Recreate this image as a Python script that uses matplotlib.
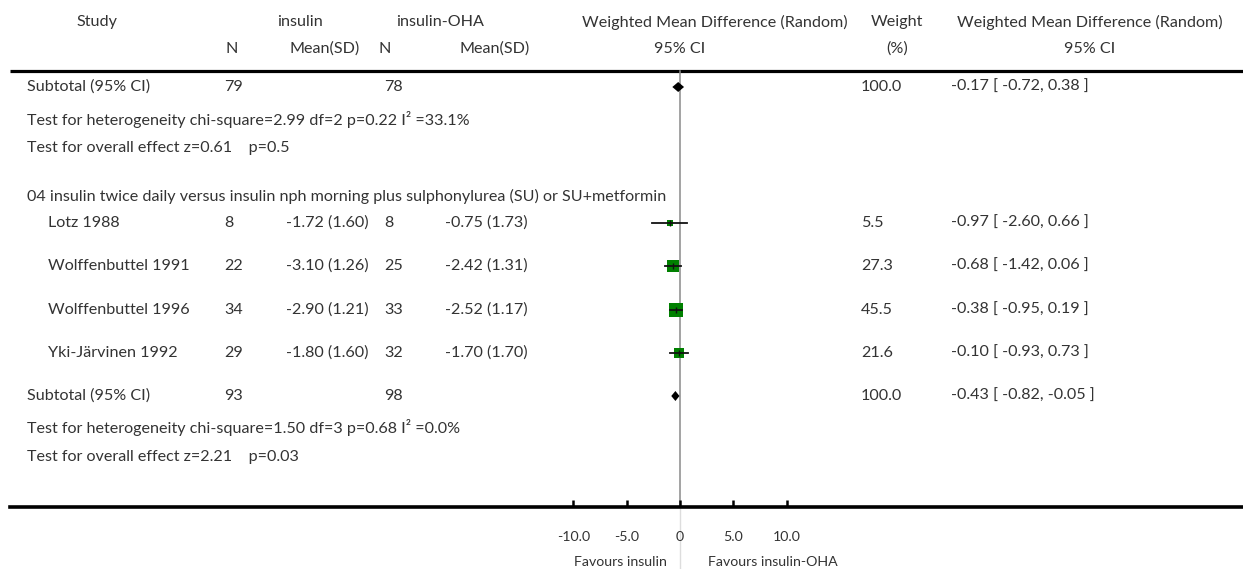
import matplotlib
matplotlib.use("Agg")
import matplotlib.pyplot as plt
import numpy as np

# ---------------- data ----------------
studies = ["Lotz 1988", "Wolffenbuttel 1991", "Wolffenbuttel 1996", "Yki-Järvinen 1992"]
n_insulin = [8, 22, 34, 29]
mean_insulin = [-1.72, -3.10, -2.90, -1.80]
sd_insulin = [1.60, 1.26, 1.21, 1.60]
n_oha = [8, 25, 33, 32]
mean_oha = [-0.75, -2.42, -2.52, -1.70]
sd_oha = [1.73, 1.31, 1.17, 1.70]
wmd = [-0.97, -0.68, -0.38, -0.10]
ci_lo = [-2.60, -1.42, -0.95, -0.93]
ci_hi = [0.66, 0.06, 0.19, 0.73]
weights = [5.5, 27.3, 45.5, 21.6]

# subtotal of previous group (top) and of group 04
sub1_n = (79, 78)
sub1 = (-0.17, -0.72, 0.38)
sub1_weight = 100.0
sub1_het = "Test for heterogeneity chi-square=2.99 df=2 p=0.22 I² =33.1%"
sub1_overall = "Test for overall effect z=0.61    p=0.5"

group_title = "04 insulin twice daily versus insulin nph morning plus sulphonylurea (SU) or SU+metformin"
sub2_n = (93, 98)
sub2 = (-0.43, -0.82, -0.05)
sub2_weight = 100.0
sub2_het = "Test for heterogeneity chi-square=1.50 df=3 p=0.68 I² =0.0%"
sub2_overall = "Test for overall effect z=2.21    p=0.03"

xticks = [-10, -5, 0, 5, 10]
xtick_labels = ["-10.0", "-5.0", "0", "5.0", "10.0"]

# ---------------- layout ----------------
W, H = 1243, 569
PX_PER_UNIT = 10.667
X0 = 680.0  # pixel of zero

plt.rcParams['font.family'] = ['Lato', 'DejaVu Sans']
FS = 11.6
TC = '#333333'

fig = plt.figure(figsize=(W / 100, H / 100), dpi=100)
tx = fig.add_axes([0, 0, 1, 1])
tx.set_xlim(0, W)
tx.set_ylim(H, 0)
tx.axis('off')

ax = fig.add_axes([0, 0, 1, 1])
ax.set_xlim((0 - X0) / PX_PER_UNIT, (W - X0) / PX_PER_UNIT)
ax.set_ylim(H, 0)
ax.patch.set_alpha(0)

def T(x, y, s, ha='left', fs=FS):
    tx.text(x, y, s, ha=ha, va='center', fontsize=fs, color=TC)

# headers
hy1, hy2 = 22, 49
T(97, hy1, "Study", 'center')
T(300, hy1, "insulin", 'center')
T(440, hy1, "insulin-OHA", 'center')
T(715, hy1, "Weighted Mean Difference (Random)", 'center')
T(897, hy1, "Weight", 'center')
T(1090, hy1, "Weighted Mean Difference (Random)", 'center')
T(232, hy2, "N", 'center')
T(325, hy2, "Mean(SD)", 'center')
T(385, hy2, "N", 'center')
T(495, hy2, "Mean(SD)", 'center')
T(680, hy2, "95% CI", 'center')
T(897, hy2, "(%)", 'center')
T(1090, hy2, "95% CI", 'center')

tx.plot([10, W], [71, 71], color='black', lw=2.3, solid_capstyle='butt')

# rows
y_sub1, y_het1, y_ov1 = 87, 119, 148
y_group = 196
y_studies = [223, 266, 310, 353]
y_sub2, y_het2, y_ov2 = 396, 427, 457

xcol_label, xcol_study = 27, 48
xcol_n1, xcol_m1, xcol_n2, xcol_m2 = 224, 286, 384, 445
xcol_w, xcol_ci = 861, 951

def ci_text(e, lo, hi):
    return f"{e:.2f} [ {lo:.2f}, {hi:.2f} ]"

# subtotal 1
T(xcol_label, y_sub1, "Subtotal (95% CI)")
T(xcol_n1, y_sub1, str(sub1_n[0]))
T(xcol_n2, y_sub1, str(sub1_n[1]))
T(xcol_w, y_sub1, f"{sub1_weight:.1f}")
T(xcol_ci, y_sub1, ci_text(*sub1))
T(xcol_label, y_het1, sub1_het)
T(xcol_label, y_ov1, sub1_overall)

T(xcol_label, y_group, group_title)

for i, name in enumerate(studies):
    y = y_studies[i]
    T(xcol_study, y, name)
    T(xcol_n1, y, str(n_insulin[i]))
    T(xcol_m1, y, f"{mean_insulin[i]:.2f} ({sd_insulin[i]:.2f})")
    T(xcol_n2, y, str(n_oha[i]))
    T(xcol_m2, y, f"{mean_oha[i]:.2f} ({sd_oha[i]:.2f})")
    T(xcol_w, y, f"{weights[i]:.1f}")
    T(xcol_ci, y, ci_text(wmd[i], ci_lo[i], ci_hi[i]))

T(xcol_label, y_sub2, "Subtotal (95% CI)")
T(xcol_n1, y_sub2, str(sub2_n[0]))
T(xcol_n2, y_sub2, str(sub2_n[1]))
T(xcol_w, y_sub2, f"{sub2_weight:.1f}")
T(xcol_ci, y_sub2, ci_text(*sub2))
T(xcol_label, y_het2, sub2_het)
T(xcol_label, y_ov2, sub2_overall)

# ---------------- forest ----------------
AXIS_Y = 507
ax.plot([0, 0], [71, AXIS_Y], color='#8a8a8a', lw=1.1, zorder=1)
ax.plot([0, 0], [AXIS_Y, H], color='#dddddd', lw=1.0, zorder=1)

for i in range(len(studies)):
    y = y_studies[i]
    ax.plot([ci_lo[i], ci_hi[i]], [y, y], color='#111111', lw=1.3, zorder=3)
    side_px = 2.2 * np.sqrt(weights[i])
    ax.plot(wmd[i], y, marker='s', ms=side_px * 0.72, color='#008000',
            mec='#008000', mew=0, zorder=2)
    ax.plot(wmd[i], y, marker='|', ms=4.5, color='#111111', mew=1.0, zorder=4)

for (e, lo, hi), y in [(sub1, y_sub1), (sub2, y_sub2)]:
    ax.fill([lo, e, hi, e], [y, y - 5, y, y + 5], color='black', lw=0, zorder=3)

# axis
for s in ['top', 'left', 'right']:
    ax.spines[s].set_visible(False)
ax.spines['bottom'].set_position(('data', AXIS_Y))
ax.spines['bottom'].set_linewidth(2.6)
ax.spines['bottom'].set_bounds((10 - X0) / PX_PER_UNIT, (W - X0) / PX_PER_UNIT)
ax.set_yticks([])
ax.set_xticks(xticks)
ax.set_xticklabels(xtick_labels, fontsize=FS - 1.4, color=TC)
ax.tick_params(axis='x', direction='in', length=5, width=1.8, pad=17)

tx.text(620, 562, "Favours insulin", ha='center', va='center', fontsize=FS - 1.4, color=TC)
tx.text(773, 562, "Favours insulin-OHA", ha='center', va='center', fontsize=FS - 1.4, color=TC)

fig.savefig("out.png", dpi=100)
